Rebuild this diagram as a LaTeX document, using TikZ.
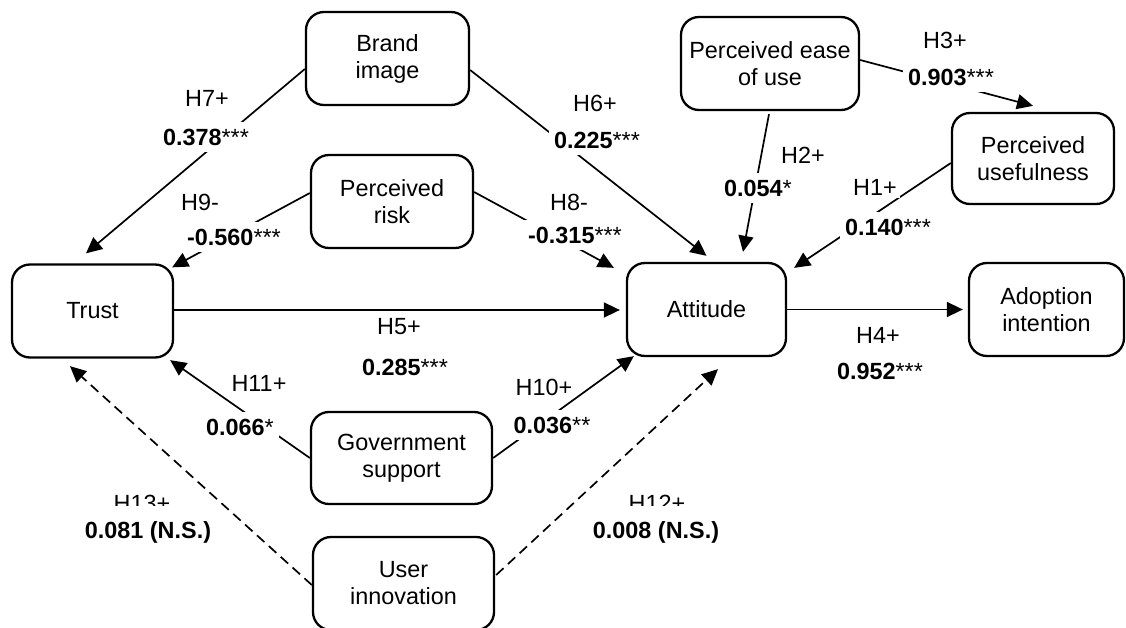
\documentclass[tikz,border=0pt]{standalone}
\usepackage{fontspec}
\setmainfont{Liberation Sans}
\usetikzlibrary{arrows.meta}
\begin{document}
\begin{tikzpicture}[x=1pt,y=-1pt,
  box/.style={draw, line width=2.3pt, rounded corners=18pt, fill=white, align=center, inner sep=0pt, font=\fontsize{23.4}{28}\selectfont},
  conn/.style={line width=1.7pt, -{Triangle[length=16pt,width=15pt]}},
  dconn/.style={conn, dash pattern=on 10pt off 6pt},
  hlab/.style={fill=white, inner sep=3pt, font=\fontsize{23.4}{28}\selectfont},
  vlab/.style={fill=white, inner xsep=5pt, inner ysep=7pt, font=\fontsize{23.4}{28}\selectfont},
]
\useasboundingbox (0,0) rectangle (1126,628);

% boxes
\node[box, minimum width=163pt, minimum height=93pt] (brand) at (387.5,58.5) {Brand\\[-1pt]image};
\node[box, minimum width=162pt, minimum height=93pt] (risk) at (392,201.5) {Perceived\\[-1pt]risk};
\node[box, minimum width=161pt, minimum height=93pt] (trust) at (92.5,311) {Trust};
\node[box, minimum width=159pt, minimum height=93pt] (att) at (706.5,309.5) {Attitude};
\node[box, minimum width=178pt, minimum height=93pt] (peou) at (770,63.5) {Perceived ease\\[-1pt]of use};
\node[box, minimum width=162pt, minimum height=91pt] (pu) at (1033,158.5) {Perceived\\[-1pt]usefulness};
\node[box, minimum width=155pt, minimum height=93pt] (adopt) at (1046.5,309.5) {Adoption\\[-1pt]intention};
\node[box, minimum width=181pt, minimum height=92pt] (gov) at (401.5,458) {Government\\[-1pt]support};
\node[box, minimum width=181pt, minimum height=93pt] (ui) at (403.5,583.5) {User\\[-1pt]innovation};

% connectors
\draw[conn] ([yshift=-10.5pt]brand.west) -- ([shift={(-6.5pt,10pt)}]trust.north);
\draw[conn] ([yshift=8.5pt]risk.west) -- ([shift={(-2pt,-4pt)}]trust.north east);
\draw[conn] ([yshift=-11.5pt]brand.east) -- ([yshift=6pt]att.north);
\draw[conn] ([yshift=9.5pt]risk.east) -- ([shift={(-12pt,-6pt)}]att.north west);
\draw[conn] ([shift={(-1pt,-3pt)}]peou.south) -- ([shift={(36.5pt,10pt)}]att.north);
\draw[conn] ([yshift=3.5pt]peou.east) -- ([yshift=6pt]pu.north);
\draw[conn] ([yshift=-4.5pt]pu.west) -- ([shift={(7pt,-6pt)}]att.north east);
\draw[conn] ([yshift=1pt]trust.east) -- ([shift={(-6pt,-0.5pt)}]att.west);
\draw[conn] (att.east) -- ([xshift=-5pt]adopt.west);
\draw[conn] (gov.west) -- ([shift={(-4pt,-1.5pt)}]trust.south east);
\draw[conn] (gov.east) -- ([shift={(8pt,1pt)}]att.south west);
\draw[dconn] ([yshift=-1.5pt]ui.west) -- ([shift={(-22.5pt,-7.5pt)}]trust.south);
\draw[dconn] ([shift={(1pt,8.5pt)}]ui.east) -- ([shift={(11.5pt,-12pt)}]att.south);

% hypothesis labels
\node[hlab] (h7) at (207,98) {H7+};
\node[hlab] (h9) at (200,202) {H9-};
\node[hlab] (h6) at (595,103) {H6+};
\node[hlab] (h8) at (569,202) {H8-};
\node[hlab] (h2) at (803,155) {H2+};
\node[hlab] (h3) at (945,40) {H3+};
\node[hlab] (h1) at (875,187) {H1+};
\node[hlab] (h5) at (399,327) {H5+};
\node[hlab] (h4) at (878,335) {H4+};
\node[hlab] (h11) at (259,383) {H11+};
\node[hlab] (h10) at (544,387) {H10+};
\node[hlab] (h13) at (142,503) {H13+};
\node[hlab] (h12) at (657,503) {H12+};

% coefficient labels
\node[vlab] (v7) at (206,137) {\textbf{0.378}***};
\node[vlab] (v9) at (234,237) {\textbf{-0.560}***};
\node[vlab] (v6) at (597,140) {\textbf{0.225}***};
\node[vlab] (v8) at (575,235) {\textbf{-0.315}***};
\node[vlab] (v2) at (758,188) {\textbf{0.054}*};
\node[vlab] (v3) at (951,77) {\textbf{0.903}***};
\node[vlab] (v1) at (888,227) {\textbf{0.140}***};
\node[vlab] (v5) at (405,367) {\textbf{0.285}***};
\node[vlab] (v4) at (880,371) {\textbf{0.952}***};
\node[vlab] (v11) at (240,427) {\textbf{0.066}*};
\node[vlab] (v10) at (552,425) {\textbf{0.036}**};
\node[vlab, minimum height=52pt, inner ysep=0pt] (v13) at (148,532) {\textbf{0.081 (N.S.)}};
\node[vlab, minimum height=52pt, inner ysep=0pt] (v12) at (656,532) {\textbf{0.008 (N.S.)}};
\end{tikzpicture}
\end{document}
